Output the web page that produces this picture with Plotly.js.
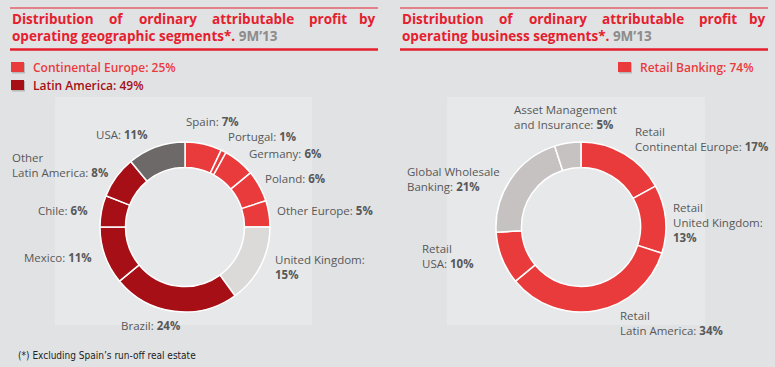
<!DOCTYPE html>
<html><head><meta charset="utf-8">
<script src="https://cdn.plot.ly/plotly-3.0.1.min.js"></script>
<style>html,body{margin:0;padding:0;background:#e1e2e4;}#chart{width:775px;height:367px;}</style>
</head><body><div id="chart"></div>
<script>
// ---- data ----
const geoLabels = ['Spain','Portugal','Germany','Poland','Other Europe','United Kingdom','Brazil','Mexico','Chile','Other\nLatin America','USA'];
const geoValues = [7,1,6,6,5,15,24,11,6,8,11];
const bizLabels = ['Retail\nContinental Europe','Retail\nUnited Kingdom','Retail\nLatin America','Retail\nUSA','Global Wholesale\nBanking','Asset Management\nand Insurance'];
const bizValues = [17,13,34,10,21,5];
const geoGroups = ['Continental Europe','Latin America'];
const geoGroupValues = [25,49];
const bizGroups = ['Retail Banking'];
const bizGroupValues = [74];

// ---- styles / layout (not data) ----
const RED='#ea3b3c', DARK='#a50f15', LIGHT='#dcdad9', USAG='#6d6969', BIZG='#c6c2c1', TITLE_RED='#e5202e';
const geoColors = [RED,RED,RED,RED,RED,LIGHT,DARK,DARK,DARK,DARK,USAG];
const bizColors = [RED,RED,RED,RED,BIZG,BIZG];
// [x, y of block centre, value on own line]
const geoLabelPos = [[185,121],[227,136],[248,153],[264,178],[276,210],[274,267,true],[120,325],[23,257],[37,210],[11,165],[95,134]];
const bizLabelPos = [[634,139],[672,222,true],[619,323],[421,256],[406,179],[513,117]];
const groupColors = [[RED,DARK],[RED]];

const W=775,H=367;
function dom(cx,cy,r){return {x:[(cx-r)/W,(cx+r)/W], y:[(H-cy-r)/H,(H-cy+r)/H]};}

const traces = [
 {type:'pie', labels:geoLabels, values:geoValues, sort:false, direction:'clockwise', rotation:0, hole:0.7,
  marker:{colors:geoColors, line:{color:'#ffffff', width:1.5}}, textinfo:'none', hoverinfo:'label+value', domain:dom(185,227,85), showlegend:false},
 {type:'pie', labels:bizLabels, values:bizValues, sort:false, direction:'clockwise', rotation:0, hole:0.7,
  marker:{colors:bizColors, line:{color:'#ffffff', width:1.5}}, textinfo:'none', hoverinfo:'label+value', domain:dom(581,227,85), showlegend:false}
];

const ann=[], shapes=[];
const LF={family:'Open Sans, sans-serif', size:11.5, color:'#585858'};
function addLabels(labels, values, pos){
  labels.forEach((lab,i)=>{
    const p=pos[i]; let lines=lab.split('\n');
    const v='<b>'+values[i]+'%</b>';
    if(p[2]){ lines[lines.length-1]+=':'; lines.push(v);} else { lines[lines.length-1]+=': '+v; }
    ann.push({x:p[0],y:p[1],xref:'x',yref:'y',text:lines.join('<br>'),align:'left',showarrow:false,xanchor:'left',yanchor:'middle',font:LF,borderpad:0});
  });
}
addLabels(geoLabels, geoValues, geoLabelPos);
addLabels(bizLabels, bizValues, bizLabelPos);

// panels
shapes.push({type:'rect',xref:'x',yref:'y',x0:55,x1:312,y0:97,y1:325,fillcolor:'#e6e8ea',line:{width:0},layer:'below'});
shapes.push({type:'rect',xref:'x',yref:'y',x0:447,x1:705,y0:97,y1:325,fillcolor:'#e6e8ea',line:{width:0},layer:'below'});

// title rules and headers
const TF={family:'Open Sans, sans-serif', size:13.5, color:TITLE_RED, weight:700};
const words=['Distribution','of','ordinary','attributable','profit','by'];
const wordX=[10,107,137,210,307,362];
[[0,10,378,'operating geographic segments*.'],[390,400,768,'operating business segments*.']].forEach(([off,a,b,l2])=>{
  shapes.push({type:'line',xref:'x',yref:'y',x0:a,x1:b,y0:8,y1:8,line:{color:TITLE_RED,width:1}});
  shapes.push({type:'line',xref:'x',yref:'y',x0:a,x1:b,y0:49.5,y1:49.5,line:{color:TITLE_RED,width:2.5}});
  words.forEach((w,k)=>{
    const x = k===words.length-1 ? b : wordX[k]+off;
    ann.push({x:x,y:19,xref:'x',yref:'y',text:w,showarrow:false,xanchor:k===words.length-1?'right':'left',yanchor:'middle',font:TF});
  });
  ann.push({x:a,y:36,xref:'x',yref:'y',text:l2+' <span style="color:#8c8c8c">9M’13</span>',showarrow:false,xanchor:'left',yanchor:'middle',font:TF});
});

// group legends
const legPos=[[[11,67],[11,85]],[[618,67]]];
[[geoGroups,geoGroupValues],[bizGroups,bizGroupValues]].forEach(([g,v],j)=>{
  g.forEach((name,i)=>{
    const [x,y]=legPos[j][i]; const c=groupColors[j][i];
    shapes.push({type:'rect',xref:'x',yref:'y',x0:x+1,x1:x+14,y0:y-4,y1:y+6.5,fillcolor:'#b8b8b8',line:{width:0}});
    shapes.push({type:'rect',xref:'x',yref:'y',x0:x,x1:x+13,y0:y-5,y1:y+5,fillcolor:c,line:{width:0}});
    ann.push({x:x+20,y:y,xref:'x',yref:'y',text:name+': '+v[i]+'%',showarrow:false,xanchor:'left',yanchor:'middle',
      font:{family:'Open Sans, sans-serif',size:12,color:c,weight:600}});
  });
});

ann.push({x:16,y:355,xref:'x',yref:'y',text:'(*) Excluding Spain’s run-off real estate',showarrow:false,xanchor:'left',yanchor:'middle',
  font:{family:'Liberation Sans Narrow, DejaVu Sans Condensed, sans-serif',size:10,color:'#222222'}});

const layout={width:W,height:H,margin:{l:0,r:0,t:0,b:0},paper_bgcolor:'#e1e2e4',plot_bgcolor:'rgba(0,0,0,0)',
  xaxis:{range:[0,W],visible:false,fixedrange:true},yaxis:{range:[H,0],visible:false,fixedrange:true},
  annotations:ann,shapes:shapes,showlegend:false};
Plotly.newPlot('chart',traces,layout,{displayModeBar:false,staticPlot:true});
</script></body></html>
